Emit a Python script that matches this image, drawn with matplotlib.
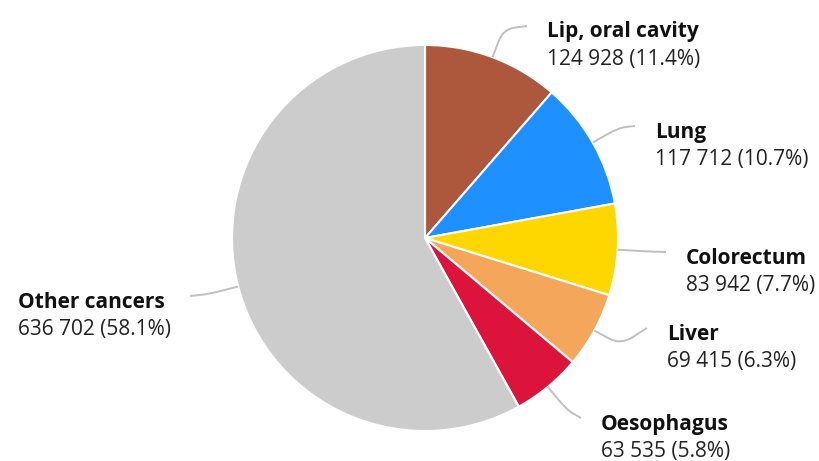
import numpy as np
import matplotlib.pyplot as plt
from matplotlib.path import Path
from matplotlib.patches import PathPatch

plt.rcParams['font.family'] = ['Open Sans', 'DejaVu Sans']

# data
sites = ['Lip, oral cavity', 'Lung', 'Colorectum', 'Liver', 'Oesophagus', 'Other cancers']
cases = [124928, 117712, 83942, 69415, 63535, 636702]
colors = ['#AD573D', '#1E90FF', '#FFD700', '#F4A65A', '#DC143C', '#CCCCCC']

# label anchor (pixel, top-left origin): text left x, bold line center y
label_pos = [(547, 30), (655, 130), (686, 256), (667, 332), (601, 422), (18, 300)]

W, H = 819, 461
cx, cy, R = 425, 238, 193

fig = plt.figure(figsize=(W / 100, H / 100), dpi=100)
ax = fig.add_axes([(cx - R) / W, (H - cy - R) / H, 2 * R / W, 2 * R / H])
wedges, _ = ax.pie(cases, colors=colors, startangle=90, counterclock=False, radius=1,
                   wedgeprops=dict(edgecolor='white', linewidth=1.5))
ax.set_xlim(-1, 1)
ax.set_ylim(-1, 1)
ax.axis('off')

# overlay in pixel coords
ov = fig.add_axes([0, 0, 1, 1], facecolor='none')
ov.set_xlim(0, W)
ov.set_ylim(H, 0)
ov.axis('off')

total = sum(cases)
for w, name, val, (lx, ly) in zip(wedges, sites, cases, label_pos):
    ang = np.deg2rad((w.theta1 + w.theta2) / 2)
    dx, dy = np.cos(ang), -np.sin(ang)
    p0 = np.array([cx + R * dx, cy + R * dy])
    p1 = np.array([cx + (R + 30) * dx, cy + (R + 30) * dy])
    right = lx > cx
    ex = lx - 20 if right else lx + 172
    p2 = np.array([ex, ly - 4])
    k = 0.45
    a = p1 + (p0 - p1) * k
    b = p1 + (p2 - p1) * k
    path = Path([p0, a, p1, b, p2],
                [Path.MOVETO, Path.LINETO, Path.CURVE3, Path.CURVE3, Path.LINETO])
    ov.add_patch(PathPatch(path, facecolor='none', edgecolor='#C0C0C0', lw=1.4))
    pct = val / total * 100
    num = f'{val:,}'.replace(',', ' ')
    ov.text(lx, ly + 2, name, fontsize=15, fontweight='bold', ha='left', va='center', color='#111111')
    ov.text(lx, ly + 29, f'{num} ({pct:.1f}%)', fontsize=15, ha='left', va='center', color='#222222')

fig.savefig('out.png', dpi=100)
